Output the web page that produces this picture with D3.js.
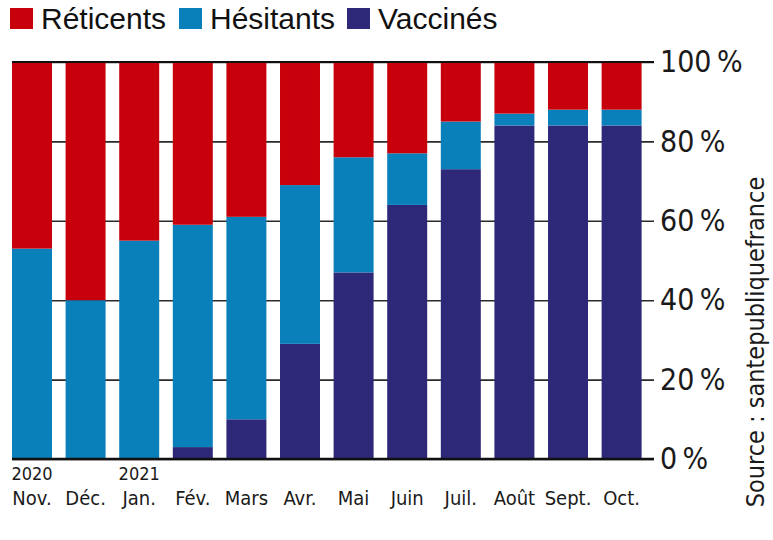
<!DOCTYPE html>
<html>
<head>
<meta charset="utf-8">
<script src="https://cdn.jsdelivr.net/npm/d3@7"></script>
<style>
  html, body { margin: 0; padding: 0; background: #fff; }
  svg { display: block; }
</style>
</head>
<body>
<svg id="chart" width="773" height="540"></svg>
<script>
// Monthly survey shares (percent), stacked bottom to top
const months = ["Nov.", "Déc.", "Jan.", "Fév.", "Mars", "Avr.", "Mai", "Juin", "Juil.", "Août", "Sept.", "Oct."];
const years = [{ month: "Nov.", label: "2020" }, { month: "Jan.", label: "2021" }];
const vaccines = [0, 0, 0, 3, 10, 29, 47, 64, 73, 84, 84, 84];
const hesitants = [53, 40, 55, 56, 51, 40, 29, 13, 12, 3, 4, 4];
const reticents = [47, 60, 45, 41, 39, 31, 24, 23, 15, 13, 12, 12];
const yTicks = [0, 20, 40, 60, 80, 100];

const seriesKeys = ["Vaccinés", "Hésitants", "Réticents"];
const legendOrder = ["Réticents", "Hésitants", "Vaccinés"];
const colors = { "Réticents": "#c8000b", "Hésitants": "#0a80bb", "Vaccinés": "#2d2978" };

const rows = months.map((m, i) => ({
  month: m,
  "Vaccinés": vaccines[i],
  "Hésitants": hesitants[i],
  "Réticents": reticents[i]
}));

const svg = d3.select("#chart");
const narrow = "'Liberation Sans Narrow', 'DejaVu Sans Condensed', 'Liberation Sans', sans-serif";
const regular = "'Liberation Sans', Arial, Helvetica, sans-serif";

const plotLeft = 12, plotRight = 641.6, axisX = 654, plotTop = 62, plotBottom = 459;

const x = d3.scaleBand().domain(months).range([plotLeft, plotRight]).paddingInner(0.254).paddingOuter(0);
const y = d3.scaleLinear().domain([0, 100]).range([plotBottom, plotTop]);

// Gridlines and right-hand percent labels
const yAxis = svg.append("g")
  .attr("transform", `translate(${axisX},0)`)
  .call(d3.axisRight(y).tickValues(yTicks).tickSize(-(axisX - plotLeft)).tickPadding(6)
    .tickFormat(d => d + "\u2009%"));
yAxis.select(".domain").remove();
yAxis.selectAll(".tick line").attr("stroke", "#2a2a2a").attr("stroke-width", 1.6);
yAxis.selectAll(".tick text")
  .attr("fill", "#1a1a1a")
  .style("font-family", narrow)
  .style("font-size", "30px");

// Stacked bars
const stack = d3.stack().keys(seriesKeys)(rows);
svg.append("g").selectAll("g")
  .data(stack)
  .join("g")
  .attr("fill", d => colors[d.key])
  .selectAll("rect")
  .data(d => d)
  .join("rect")
  .attr("x", d => x(d.data.month))
  .attr("width", x.bandwidth())
  .attr("y", d => y(d[1]))
  .attr("height", d => y(d[0]) - y(d[1]));

// Baseline and top rule over the bars
svg.append("g").selectAll("line")
  .data([0, 100])
  .join("line")
  .attr("x1", plotLeft)
  .attr("x2", axisX)
  .attr("y1", d => y(d))
  .attr("y2", d => y(d))
  .attr("stroke", "#111")
  .attr("stroke-width", d => d === 0 ? 2.6 : 2);

// Month labels
const xAxis = svg.append("g")
  .attr("transform", `translate(0,${plotBottom})`)
  .call(d3.axisBottom(x).tickSize(0));
xAxis.select(".domain").remove();
xAxis.selectAll(".tick text")
  .attr("fill", "#1a1a1a")
  .attr("dy", 0)
  .attr("y", 46)
  .style("font-family", narrow)
  .style("font-size", "20px");

// Year markers
svg.append("g").selectAll("text")
  .data(years)
  .join("text")
  .attr("x", d => x(d.month) + x.bandwidth() / 2)
  .attr("y", 480)
  .attr("text-anchor", "middle")
  .attr("fill", "#1a1a1a")
  .style("font-family", narrow)
  .style("font-size", "18px")
  .text(d => d.label);

// Legend
const legend = svg.append("g");
const legendX = [10, 179, 347];
legendOrder.forEach((k, i) => {
  const g = legend.append("g").attr("transform", `translate(${legendX[i]},0)`);
  g.append("rect").attr("x", 0).attr("y", 8).attr("width", 23).attr("height", 21).attr("fill", colors[k]);
  g.append("text")
    .attr("x", 31)
    .attr("y", 28.5)
    .attr("fill", "#111")
    .style("font-family", regular)
    .style("font-size", "30px")
    .text(k);
});

// Source, rotated along the right edge
svg.append("text")
  .attr("transform", "translate(764,342) rotate(-90)")
  .attr("text-anchor", "middle")
  .attr("fill", "#1a1a1a")
  .style("font-family", narrow)
  .style("font-size", "25px")
  .text("Source : santepubliquefrance");
</script>
</body>
</html>
